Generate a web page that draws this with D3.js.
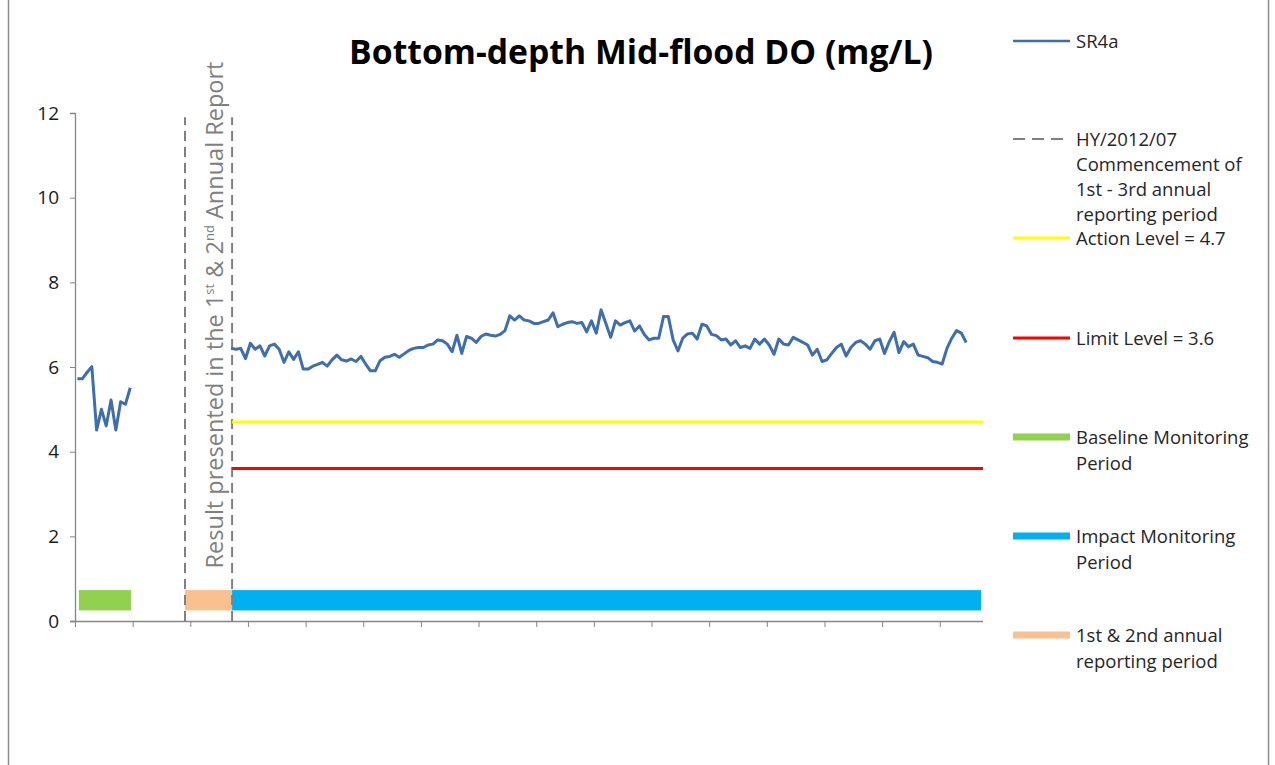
<!DOCTYPE html>
<html>
<head>
<meta charset="utf-8">
<script src="https://cdn.jsdelivr.net/npm/d3@7"></script>
<style>
  body { margin: 0; background: #fff; }
  svg text { font-family: "Open Sans", "Liberation Sans", sans-serif; }
</style>
</head>
<body>
<div id="chart-area"></div>
<script>
// data (mg/L)
var baselineDO = [5.72, 5.72, 5.87, 6.01, 4.51, 5.00, 4.61, 5.22, 4.51, 5.18, 5.12, 5.51];
var impactDO = [
  6.44, 6.42, 6.44, 6.20, 6.56, 6.42, 6.50, 6.26, 6.50, 6.54, 6.42, 6.11, 6.36, 6.18, 6.36, 5.95, 5.95, 6.02, 6.06, 6.11,
  6.02, 6.17, 6.28, 6.17, 6.14, 6.19, 6.13, 6.25, 6.07, 5.91, 5.91, 6.15, 6.23, 6.25, 6.30, 6.23, 6.31, 6.39, 6.44,
  6.46, 6.46, 6.52, 6.54, 6.64, 6.62, 6.54, 6.36, 6.75, 6.32, 6.72, 6.68, 6.58, 6.72, 6.78, 6.75, 6.73, 6.77, 6.86, 7.21,
  7.11, 7.21, 7.11, 7.09, 7.03, 7.03, 7.07, 7.11, 7.28, 6.95, 7.01, 7.05, 7.07, 7.03, 7.05, 6.83, 7.09, 6.80, 7.35,
  7.03, 6.70, 7.09, 6.99, 7.05, 7.09, 6.85, 6.97, 6.77, 6.64, 6.68, 6.68, 7.19, 7.19, 6.64, 6.38, 6.68, 6.78, 6.80, 6.66,
  7.01, 6.97, 6.77, 6.74, 6.64, 6.66, 6.52, 6.62, 6.46, 6.50, 6.44, 6.66, 6.54, 6.66, 6.52, 6.30, 6.66, 6.54,
  6.52, 6.70, 6.64, 6.58, 6.52, 6.28, 6.42, 6.13, 6.17, 6.32, 6.46, 6.54, 6.26, 6.46, 6.58, 6.62, 6.54, 6.42, 6.62, 6.66,
  6.32, 6.60, 6.82, 6.34, 6.60, 6.48, 6.54, 6.28, 6.25, 6.22, 6.13, 6.11, 6.07, 6.44, 6.68, 6.86, 6.80, 6.58
];
var baselineStart = 0.5;   // sample slot of first baseline survey
var impactStart = 32.5;    // sample slot of first impact survey
var slotCount = 189;
var actionLevel = 4.7;
var limitLevel = 3.6;
var reportLines = [22.9, 32.7];          // HY/2012/07 markers
var baselinePeriod = [0.8, 11.7];
var reportPeriod = [22.9, 32.7];
var impactPeriod = [32.7, 188.6];
var yTicks = [0, 2, 4, 6, 8, 10, 12];
var xTicks = [0, 12, 24, 36, 48, 60, 72, 84, 96, 108, 120, 132, 144, 156, 168, 180];

var width = 1275, height = 765;
var plot = {left: 75, right: 983, top: 113, bottom: 621};

var svg = d3.select("#chart-area").append("svg")
  .attr("width", width)
  .attr("height", height);

// chart frame
svg.append("rect")
  .attr("x", 8.5).attr("y", -1)
  .attr("width", 1260).attr("height", 780)
  .attr("fill", "none")
  .attr("stroke", "#8c8c8c")
  .attr("stroke-width", 1.5);

var x = d3.scaleLinear().domain([0, slotCount]).range([plot.left, plot.right]);
var y = d3.scaleLinear().domain([0, 12]).range([plot.bottom, plot.top]);

// title
var title = svg.append("text")
  .attr("x", 641).attr("y", 64)
  .attr("text-anchor", "middle")
  .style("font-weight", "bold")
  .style("font-size", "30px")
  .attr("fill", "#000")
  .text("Bottom-depth Mid-flood DO (mg/L)");
var tw = title.node().getComputedTextLength();
title.style("font-size", (30 * 584 / tw) + "px");

// period bars
function periodBar(range, color) {
  svg.append("rect")
    .attr("x", x(range[0]))
    .attr("width", x(range[1]) - x(range[0]))
    .attr("y", y(0.73))
    .attr("height", y(0.25) - y(0.73))
    .attr("fill", color);
}
periodBar(baselinePeriod, "#92D050");
periodBar(reportPeriod, "#FAC090");
periodBar(impactPeriod, "#00B0F0");

// y axis
var yAxis = svg.append("g")
  .attr("transform", "translate(" + plot.left + ",0)")
  .call(d3.axisLeft(y).tickValues(yTicks).tickSize(5).tickPadding(11));
yAxis.select(".domain").attr("stroke", "#868686").attr("stroke-width", 1.3);
yAxis.selectAll(".tick line").attr("stroke", "#868686");
yAxis.selectAll(".tick text")
  .attr("fill", "#1a1a1a")
  .style("font-size", "19px")
  .style("font-family", "'Open Sans', sans-serif");

// x axis (no labels)
var xAxis = svg.append("g")
  .attr("transform", "translate(0," + plot.bottom + ")")
  .call(d3.axisBottom(x).tickValues(xTicks).tickSize(6).tickFormat(""));
xAxis.select(".domain").attr("stroke", "#868686").attr("stroke-width", 1.3)
  .attr("d", "M" + (plot.left - 5) + ",0.5H" + plot.right);
xAxis.selectAll(".tick line").attr("stroke", "#868686");

// dashed HY/2012/07 lines
svg.selectAll(".report-line")
  .data(reportLines)
  .enter().append("line")
  .attr("class", "report-line")
  .attr("x1", function (d) { return x(d); })
  .attr("x2", function (d) { return x(d); })
  .attr("y1", y(0))
  .attr("y2", y(11.9))
  .attr("stroke", "#808080")
  .attr("stroke-width", 2)
  .attr("stroke-dasharray", "10,6");

// action and limit levels
svg.append("line")
  .attr("x1", x(reportLines[1])).attr("x2", x(slotCount))
  .attr("y1", y(actionLevel)).attr("y2", y(actionLevel))
  .attr("stroke", "#FFFF00").attr("stroke-width", 3);
svg.append("line")
  .attr("x1", x(reportLines[1])).attr("x2", x(slotCount))
  .attr("y1", y(limitLevel)).attr("y2", y(limitLevel))
  .attr("stroke", "#FF0000").attr("stroke-width", 3);

// SR4a series
var line = d3.line()
  .x(function (d) { return x(d.slot); })
  .y(function (d) { return y(d.value); });

var baseData = baselineDO.map(function (v, i) { return {slot: baselineStart + i, value: v}; });
var impData = impactDO.map(function (v, i) { return {slot: impactStart + i, value: v}; });

[baseData, impData].forEach(function (seg) {
  svg.append("path")
    .datum(seg)
    .attr("d", line)
    .attr("fill", "none")
    .attr("stroke", "#3F6EAC")
    .attr("stroke-width", 3)
    .attr("stroke-linejoin", "round");
});

// rotated note
var note = svg.append("text")
  .attr("transform", "translate(223,315) rotate(-90)")
  .attr("text-anchor", "middle")
  .attr("fill", "#7f7f7f")
  .style("font-size", "21px");
note.append("tspan").text("Result presented in the 1");
note.append("tspan").attr("baseline-shift", "super").style("font-size", "13px").text("st");
note.append("tspan").text(" & 2");
note.append("tspan").attr("baseline-shift", "super").style("font-size", "13px").text("nd");
note.append("tspan").text(" Annual Report");
var nw = note.node().getComputedTextLength();
note.style("font-size", (21 * 510 / nw) + "px");

// legend
var legendItems = [
  {y: 41, color: "#3F6EAC", w: 2.6, dash: null, lines: ["SR4a"]},
  {y: 139, color: "#808080", w: 2, dash: "12,7", lines: ["HY/2012/07", "Commencement of", "1st - 3rd annual", "reporting period"]},
  {y: 238, color: "#FFFF00", w: 3, dash: null, lines: ["Action Level = 4.7"]},
  {y: 338, color: "#FF0000", w: 3, dash: null, lines: ["Limit Level = 3.6"]},
  {y: 437, color: "#92D050", w: 7, dash: null, lines: ["Baseline Monitoring", "Period"]},
  {y: 536, color: "#00B0F0", w: 7, dash: null, lines: ["Impact Monitoring", "Period"]},
  {y: 635, color: "#FAC090", w: 7, dash: null, lines: ["1st & 2nd annual", "reporting period"]}
];

var legend = svg.append("g").attr("class", "legend");
legendItems.forEach(function (item) {
  legend.append("line")
    .attr("x1", 1013).attr("x2", 1070)
    .attr("y1", item.y).attr("y2", item.y)
    .attr("stroke", item.color)
    .attr("stroke-width", item.w)
    .attr("stroke-dasharray", item.dash);
  var gap = item.lines.length > 2 ? 25 : 26;
  item.lines.forEach(function (t, i) {
    legend.append("text")
      .attr("x", 1076)
      .attr("y", item.y + 7 + i * gap)
      .attr("fill", "#262626")
      .style("font-size", "18.5px")
      .text(t);
  });
});
</script>
</body>
</html>
